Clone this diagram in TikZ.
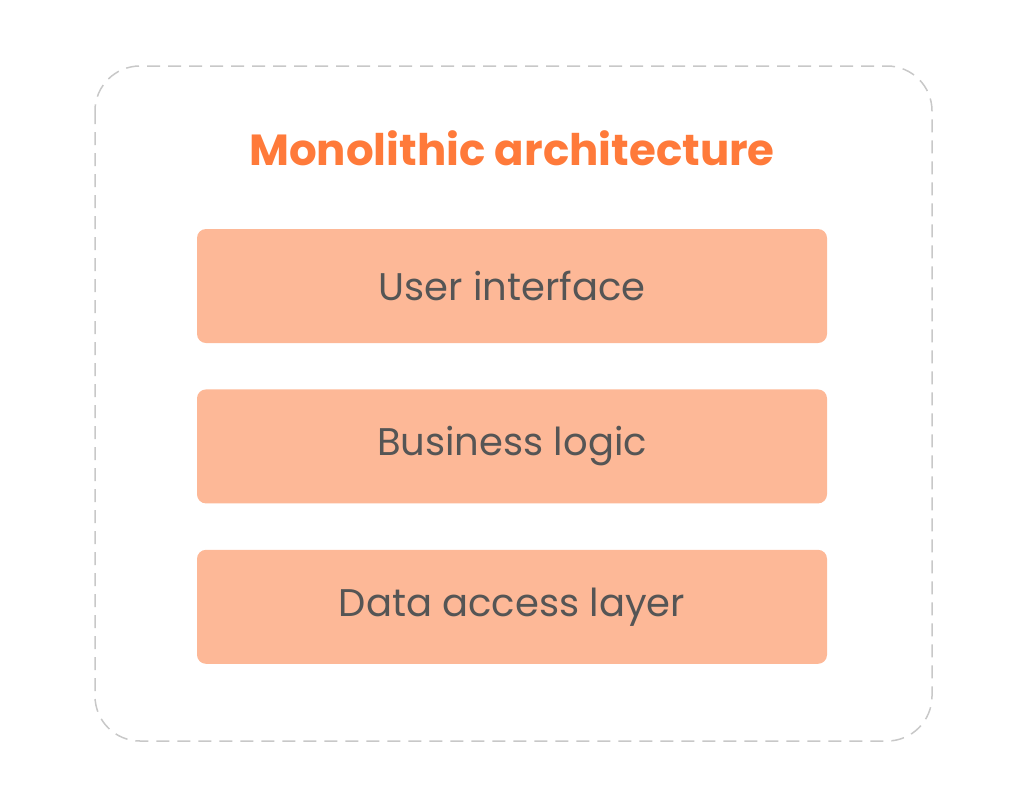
\documentclass[tikz,border=0pt]{standalone}
\usepackage{fontspec}
\setmainfont{Poppins}
\usetikzlibrary{positioning}
\definecolor{frameGray}{HTML}{C8C8C8}
\definecolor{titleOrange}{HTML}{FF7A3A}
\definecolor{layerFill}{HTML}{FDB897}
\definecolor{layerText}{HTML}{555555}
\tikzset{
  layer/.style={fill=layerFill, rounded corners=9pt, minimum width=630pt,
    minimum height=114pt, inner sep=0pt, text=layerText, font=\fontsize{38.5}{46}\selectfont}
}
\begin{document}
\begin{tikzpicture}[x=1pt,y=-1pt]
            \useasboundingbox (0,0) rectangle (1024,806);
            % outer frame
            \draw[frameGray, line width=1.5pt, dash pattern=on 13pt off 8pt, rounded corners=45pt]
                (95,66) rectangle (932,741);
            % title
            \node[text=titleOrange, font=\fontsize{43.5}{50}\selectfont\bfseries] (title) at (512,148) {Monolithic architecture};
            % layers
            \node[layer] (ui) at (512,286) {User interface};
            \node[layer, below=46pt of ui] (logic) {Business logic};
            \node[layer, below=46pt of logic] (data) {Data access layer};
\end{tikzpicture}
\end{document}
